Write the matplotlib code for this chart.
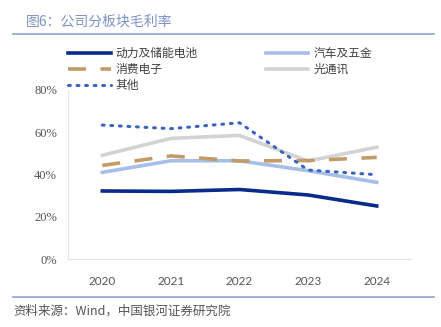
import numpy as np
import matplotlib.pyplot as plt
from matplotlib.ticker import PercentFormatter

plt.rcParams['font.family'] = ['Noto Sans CJK SC', 'DejaVu Sans']

years = ['2020', '2021', '2022', '2023', '2024']
battery = [32.2, 32.0, 32.9, 30.3, 25.1]
auto = [41.0, 46.5, 46.5, 41.8, 36.3]
consumer = [44.3, 48.8, 46.4, 46.6, 48.1]
optical = [49.1, 57.1, 58.5, 46.4, 52.9]
other = [63.4, 61.7, 64.5, 42.1, 39.9]

W, H = 441, 327
fig = plt.figure(figsize=(W / 100, H / 100), dpi=100)
ax = fig.add_axes([68 / W, 1 - 259 / H, (411 - 68) / W, (259 - 90) / H])

x = np.arange(len(years))
ax.plot(x, battery, color='#0a2a8c', lw=2.6, label='动力及储能电池', zorder=3)
ax.plot(x, consumer, color='#c39b6b', lw=2.6, dashes=(5, 4), label='消费电子', zorder=4)
ax.plot(x, other, color='#3b64bd', lw=2.2, linestyle=(0, (0.6, 2.2)), dash_capstyle='round',
        label='其他', zorder=5)
ax.plot(x, auto, color='#a7bfe6', lw=2.6, label='汽车及五金', zorder=2)
ax.plot(x, optical, color='#d3d3d3', lw=2.6, label='光通讯', zorder=1)

ax.set_xlim(-0.5, len(years) - 0.5)
ax.set_ylim(0, 80)
ax.set_yticks([0, 20, 40, 60, 80])
ax.yaxis.set_major_formatter(PercentFormatter(decimals=0))
ax.set_xticks(x)
ax.set_xticklabels(years)
for lbl in ax.get_yticklabels():
    lbl.set_family('Liberation Serif')
    lbl.set_fontsize(9)
for lbl in ax.get_xticklabels():
    lbl.set_family('Lato')
    lbl.set_fontsize(8.5)
ax.tick_params(length=0, colors='#555555', pad=8)
ax.tick_params(axis='x', pad=12)
for s in ['top', 'right']:
    ax.spines[s].set_visible(False)
for s in ['left', 'bottom']:
    ax.spines[s].set_color('#e6e6e6')
    ax.spines[s].set_linewidth(0.8)

# legend in two columns above the plot (filled column by column)
leg = fig.legend(ncol=2, loc='upper left', bbox_to_anchor=(68 / W, 1 - 47 / H),
                 frameon=False, fontsize=8.5, handlelength=3.6, handletextpad=0.4,
                 columnspacing=5.8, labelspacing=0.25, borderaxespad=0, borderpad=0)
for t in leg.get_texts():
    t.set_color('#404040')

fig.text(26 / W, 1 - 22 / H, '图6：公司分板块毛利率', color='#7d93c4', fontsize=10, va='center')
fig.add_artist(plt.Line2D([13 / W, 434 / W], [1 - 34 / H] * 2, color='#8ea3cf', lw=1.2))
fig.add_artist(plt.Line2D([13 / W, 434 / W], [1 - 297 / H] * 2, color='#8ea3cf', lw=1.2))
fig.text(13 / W, 1 - 311 / H, '资料来源：Wind，中国银河证券研究院', color='#555555', fontsize=9,
         va='center', style='italic')

fig.savefig('out.png', dpi=100)
